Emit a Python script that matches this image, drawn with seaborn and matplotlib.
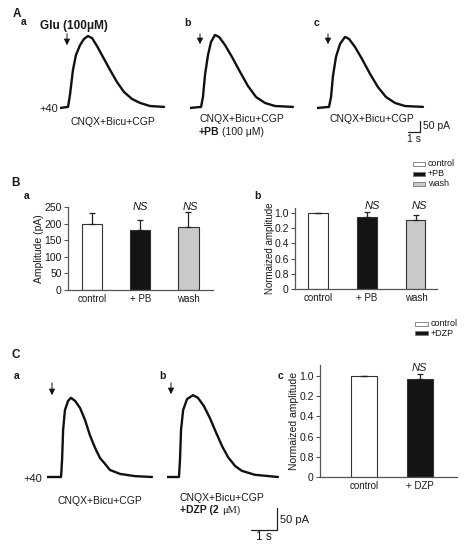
import matplotlib
matplotlib.use('Agg')
import matplotlib.pyplot as plt
import seaborn as sns
import numpy as np
import pandas as pd
from matplotlib.patches import Rectangle

W, H = 474, 544
sns.set_style('white')
plt.rcParams['font.family'] = ['Liberation Sans', 'DejaVu Sans']

# ---------------- data ----------------
# Panel A traces (time in s, current in pA)
aa_t = [0, 0.67, 0.83, 1.08, 1.33, 1.67, 2.0, 2.33, 2.67, 3.08, 3.58, 4.17, 4.75, 5.33, 6.0, 6.67, 7.5, 8.67]
aa_i = [0, 5, 59, 173, 241, 286, 314, 327, 318, 282, 232, 173, 118, 73, 41, 23, 9, 5]
ab_t = [0, 0.92, 1.08, 1.25, 1.5, 1.75, 2.08, 2.42, 2.92, 3.5, 4.17, 4.83, 5.5, 6.25, 7.08, 8.58]
ab_i = [0, 5, 50, 150, 241, 300, 332, 323, 286, 232, 164, 100, 50, 23, 9, 5]
ac_t = [0, 1.0, 1.17, 1.33, 1.58, 1.92, 2.33, 2.67, 3.17, 3.75, 4.42, 5.08, 5.75, 6.5, 7.33, 8.83]
ac_i = [0, 5, 50, 145, 232, 291, 323, 314, 277, 223, 155, 95, 50, 23, 9, 5]
# Panel C traces
ca_t = [0, 0.54, 0.58, 0.62, 0.69, 0.81, 0.92, 1.08, 1.27, 1.46, 1.65, 1.85, 2.04, 2.23, 2.42, 2.81, 3.38, 4.04]
ca_i = [0, 0, 39, 107, 152, 173, 180, 173, 157, 130, 95, 66, 43, 30, 16, 7, 2, 0]
cb_t = [0, 0.46, 0.5, 0.54, 0.62, 0.77, 1.0, 1.19, 1.42, 1.65, 1.88, 2.12, 2.35, 2.62, 2.88, 3.38, 4.27]
cb_i = [0, 0, 39, 107, 152, 177, 186, 180, 161, 134, 102, 70, 45, 25, 14, 5, 0]

# Panel B bars
b_cats = ['control', '+ PB', 'wash']
ba_vals = [200, 181, 191]
ba_err = [32, 30, 43]
bb_vals = [1.0, 0.95, 0.91]
bb_err = [0.0, 0.06, 0.06]
ba_yticks = [0, 50, 100, 150, 200, 250]
norm_ticks = [0, 0.2, 0.4, 0.6, 0.8, 1.0]
norm_ticklabels = ['0', '0.8', '0.6', '0.4', '0.2', '1.0']
# Panel C bars
c_cats = ['control', '+ DZP']
cc_vals = [1.0, 0.97]
cc_err = [0.0, 0.05]

b_colors = ['#ffffff', '#141414', '#c9c9cc']
c_colors = ['#ffffff', '#141414']

# ---------------- figure ----------------
fig = plt.figure(figsize=(W / 100, H / 100), dpi=100)


def fx(x):
    return x / W


def fy(y):
    return 1 - y / H


def T(x, y, s, size=7.5, ha='left', va='center', **kw):
    fig.text(fx(x), fy(y), s, fontsize=size, ha=ha, va=va, color='#1a1a1a', **kw)


def trace(x0, base, w, px_s, px_pA, t, i):
    ax = fig.add_axes([fx(x0), fy(base + 15), w / W, 100 / H])
    ax.set_xlim(0, w / px_s)
    ax.set_ylim(-15 / px_pA, 85 / px_pA)
    df = pd.DataFrame({'t': t, 'I': i})
    sns.lineplot(data=df, x='t', y='I', ax=ax, color='#111111', lw=1.7,
                 estimator=None, sort=False)
    ax.axis('off')
    return ax


def arrow(x, y1, y2):
    fig.add_artist(matplotlib.patches.FancyArrowPatch(
        (fx(x), fy(y1)), (fx(x), fy(y2)), transform=fig.transFigure,
        arrowstyle='-|>', mutation_scale=9, lw=0.7, color='#111111'))


def bars(left, top, right, bottom, cats, vals, errs, colors, width, xlim, ylim):
    ax = fig.add_axes([fx(left), fy(bottom), (right - left) / W, (bottom - top) / H])
    df = pd.DataFrame({'cat': cats, 'val': vals})
    sns.barplot(data=df, x='cat', y='val', hue='cat', order=cats, hue_order=cats,
                palette=colors, width=width, edgecolor='#333333', linewidth=0.8,
                ax=ax, legend=False, errorbar=None)
    ax.errorbar(np.arange(len(cats)), vals, yerr=[np.zeros(len(errs)), errs],
                fmt='none', ecolor='#222222', elinewidth=0.9, capsize=2,
                capthick=0.9, zorder=5)
    ax.set_xlim(*xlim)
    ax.set_ylim(*ylim)
    for s in ['top', 'right']:
        ax.spines[s].set_visible(False)
    for s in ['left', 'bottom']:
        ax.spines[s].set_color('#555555')
        ax.spines[s].set_linewidth(0.9)
    ax.set_xlabel('')
    ax.tick_params(axis='y', left=True, length=3, width=0.8, color='#555555',
                   labelsize=7.5, pad=1.5, labelcolor='#1a1a1a')
    ax.tick_params(axis='x', length=0, labelsize=7, pad=3, labelcolor='#1a1a1a')
    ax.patch.set_alpha(0)
    return ax


# ---- Panel A ----
T(17, 14, 'A', 8.5, ha='center', fontweight='bold')
T(24, 22, 'a', 7.5, ha='center', fontweight='bold')
T(40, 26, 'Glu (100\u03bcM)', 8.5, fontweight='bold')
T(187, 23, 'b', 7.5, ha='center', fontweight='bold')
T(316, 23, 'c', 7.5, ha='center', fontweight='bold')

trace(60, 108, 120, 12, 0.22, aa_t, aa_i)
trace(190, 108, 120, 12, 0.22, ab_t, ab_i)
axc = trace(317, 108, 120, 12, 0.22, ac_t, ac_i)
# scale bar A: 1 s, 50 pA
t0, i0 = (420 - 317) / 12, (108 - 132) / 0.22
axc.plot([t0 - 1, t0, t0], [i0, i0, i0 + 50], color='#222222', lw=0.9, clip_on=False)
T(423, 126, '50 pA', 7.5)
T(414, 139, '1 s', 7.5, ha='center')

arrow(67, 31, 48)
arrow(200, 31, 47)
arrow(328, 31, 47)

T(58, 109, '+40', 8, ha='right')
T(113, 122, 'CNQX+Bicu+CGP', 7.5, ha='center')
T(199, 119, 'CNQX+Bicu+CGP', 7.5)
T(199, 132, '+PB', 7.5, fontweight='bold')
T(222, 132, '(100 \u03bcM)', 7.5)
T(329, 119, 'CNQX+Bicu+CGP', 7.5)

# legend B
for k, (lab, col) in enumerate(zip(['control', '+PB', 'wash'], b_colors)):
    y = 164 + 10 * k
    fig.add_artist(Rectangle((fx(413), fy(y + 2)), 12 / W, 4 / H, transform=fig.transFigure,
                             facecolor=col, edgecolor='#777777', lw=0.6))
    T(428, y, lab, 6.5)

# ---- Panel B ----
T(15, 183, 'B', 8.5, ha='center', fontweight='bold')
T(27, 196, 'a', 7.5, ha='center', fontweight='bold')
T(257, 196, 'b', 7.5, ha='center', fontweight='bold')

axba = bars(68, 207, 213, 290, b_cats, ba_vals, ba_err, b_colors, 0.42, (-0.5, 2.51), (0, 250))
axba.set_yticks(ba_yticks)
axba.spines['left'].set_bounds(0, 250)
axba.set_ylabel('Amplitude (pA)', fontsize=7.5, color='#1a1a1a')
axba.yaxis.set_label_coords(-0.166, 0.5)
T(140, 207, 'NS', 8, ha='center', style='italic')
T(190, 207, 'NS', 8, ha='center', style='italic')

axbb = bars(295, 208, 437, 289, b_cats, bb_vals, bb_err, b_colors, 0.39, (-0.47, 2.43), (0, 1.066))
axbb.set_yticks(norm_ticks)
axbb.set_yticklabels(norm_ticklabels)
axbb.set_ylabel('Normaized amplitude', fontsize=7, color='#1a1a1a')
axbb.yaxis.set_label_coords(-0.14, 0.5)
T(372, 206, 'NS', 8, ha='center', style='italic')
T(419, 206, 'NS', 8, ha='center', style='italic')

# legend C
for k, (lab, col) in enumerate(zip(['control', '+DZP'], c_colors)):
    y = 324 + 9 * k
    fig.add_artist(Rectangle((fx(415), fy(y + 2)), 13 / W, 4 / H, transform=fig.transFigure,
                             facecolor=col, edgecolor='#777777', lw=0.6))
    T(431, y, lab, 6.5)

# ---- Panel C ----
T(16, 355, 'C', 8.5, ha='center', fontweight='bold')
T(17, 376, 'a', 7.5, ha='center', fontweight='bold')
T(162, 376, 'b', 7.5, ha='center', fontweight='bold')
T(281, 376, 'c', 7.5, ha='center', fontweight='bold')

trace(47, 477, 110, 26, 0.44, ca_t, ca_i)
axcb = trace(167, 477, 115, 26, 0.44, cb_t, cb_i)
t0, i0 = (277 - 167) / 26, (477 - 530) / 0.44
axcb.plot([t0 - 1, t0, t0], [i0, i0, i0 + 50], color='#222222', lw=0.9, clip_on=False)
T(280, 520, '50 pA', 8)
T(264, 537, '1 s', 8.5, ha='center')

arrow(52, 380, 398)
arrow(171, 380, 397)

T(42, 479, '+40', 8, ha='right')
T(57, 501, 'CNQX+Bicu+CGP', 7.5)
T(180, 498, 'CNQX+Bicu+CGP', 7.5)
T(180, 510, '+DZP (2 ', 7.5, fontweight='bold')
T(222, 510, '\u03bcM)', 7.5, family=['Liberation Serif', 'DejaVu Serif'])

axcc = bars(320, 365, 457, 477, c_cats, cc_vals, cc_err, c_colors, 0.45, (-0.786, 1.66), (0, 1.109))
axcc.set_yticks(norm_ticks)
axcc.set_yticklabels(norm_ticklabels)
axcc.set_ylabel('Normaized amplitude', fontsize=7.5, color='#1a1a1a')
axcc.yaxis.set_label_coords(-0.155, 0.5)
T(419, 368, 'NS', 8, ha='center', style='italic')

fig.savefig('out.png', dpi=100)
